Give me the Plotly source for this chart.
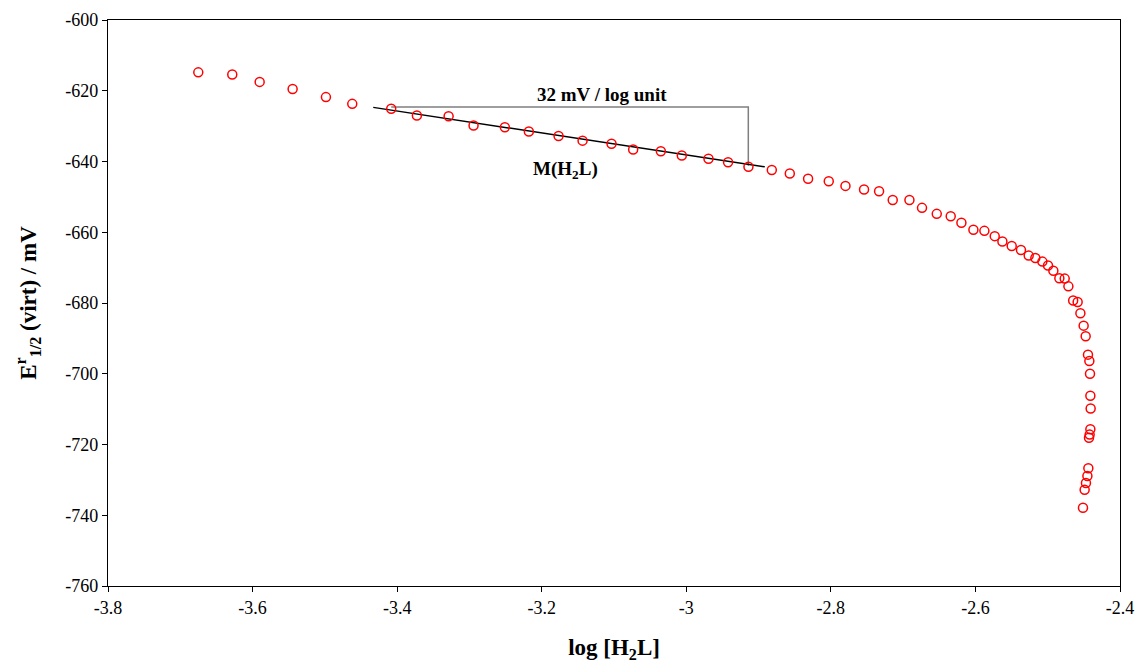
import plotly.graph_objects as go

# Experimental points: log[H2L] vs E_1/2 (virt) / mV
log_h2l = [-3.6751, -3.6281, -3.5902, -3.5446, -3.4985, -3.4621, -3.4082, -3.3727, -3.3288, -3.2943,
           -3.2510, -3.2178, -3.1767, -3.1435, -3.1034, -3.0735, -3.0352, -3.0062, -2.9693, -2.9422,
           -2.9140, -2.8817, -2.8568, -2.8315, -2.8029, -2.7798, -2.7541, -2.7333, -2.7144, -2.6913,
           -2.6739, -2.6535, -2.6342, -2.6194, -2.6028, -2.5876, -2.5733, -2.5627, -2.5498, -2.5370,
           -2.5263, -2.5171, -2.5074, -2.4996, -2.4922, -2.4839, -2.4765, -2.4714, -2.4648, -2.4586,
           -2.4548, -2.4503, -2.4475, -2.4443, -2.4424, -2.4415, -2.4410, -2.4406, -2.4410, -2.4420,
           -2.4429, -2.4438, -2.4451, -2.4471, -2.4489, -2.4512]
e_half = [-614.8, -615.4, -617.5, -619.5, -621.8, -623.7, -625.1, -627.0, -627.2, -629.8,
          -630.3, -631.5, -632.8, -634.1, -635.0, -636.6, -637.1, -638.3, -639.2, -640.2,
          -641.5, -642.4, -643.4, -644.9, -645.6, -646.9, -647.9, -648.4, -650.9, -650.9,
          -653.1, -654.8, -655.5, -657.3, -659.3, -659.6, -661.1, -662.6, -663.9, -665.0,
          -666.6, -667.3, -668.3, -669.4, -670.9, -673.0, -673.1, -675.3, -679.3, -679.7,
          -682.9, -686.4, -689.4, -694.6, -696.4, -700.0, -706.2, -709.8, -715.7, -717.2,
          -718.1, -726.7, -728.9, -730.9, -732.8, -737.9]

# Linear segment M(H2L), slope ~32 mV / log unit
fit_x = [-3.4331, -2.8914]
fit_y = [-624.7, -641.5]

# Slope triangle (horizontal + vertical leg)
tri_x = [-3.4082, -2.9142, -2.9142]
tri_y = [-624.6, -624.6, -641.2]

x_ticks = [-3.8, -3.6, -3.4, -3.2, -3.0, -2.8, -2.6, -2.4]
x_tick_labels = ["-3.8", "-3.6", "-3.4", "-3.2", "-3", "-2.8", "-2.6", "-2.4"]
y_ticks = [-600, -620, -640, -660, -680, -700, -720, -740, -760]
y_tick_labels = ["-600", "-620", "-640", "-660", "-680", "-700", "-720", "-740", "-760"]

slope_label = "32 mV / log unit"
slope_label_pos = (-3.1168, -621.1)
complex_label = "M(H<sub>2</sub>L)"
complex_label_pos = (-3.167, -642.3)

FONT = "Liberation Serif, Times New Roman, serif"

fig = go.Figure()
fig.add_trace(go.Scatter(x=tri_x, y=tri_y, mode="lines",
                         line=dict(color="#7f7f7f", width=1.5), showlegend=False, hoverinfo="skip"))
fig.add_trace(go.Scatter(x=fit_x, y=fit_y, mode="lines",
                         line=dict(color="black", width=1.5), showlegend=False, hoverinfo="skip"))
fig.add_trace(go.Scatter(x=log_h2l, y=e_half, mode="markers",
                         marker=dict(symbol="circle-open", size=9, color="red",
                                     line=dict(color="red", width=1.5)),
                         showlegend=False))

fig.add_annotation(x=slope_label_pos[0], y=slope_label_pos[1], text="<b>" + slope_label + "</b>",
                   showarrow=False, font=dict(family=FONT, size=19, color="black"))
fig.add_annotation(x=complex_label_pos[0], y=complex_label_pos[1], text="<b>" + complex_label + "</b>",
                   showarrow=False, font=dict(family=FONT, size=19, color="black"))

fig.update_layout(
    width=1139, height=664,
    margin=dict(l=108, r=19, t=20, b=78),
    paper_bgcolor="white", plot_bgcolor="white",
    font=dict(family=FONT, size=18, color="black"),
    xaxis=dict(range=[-3.8, -2.4], tickvals=x_ticks, ticktext=x_tick_labels, automargin=False,
               showgrid=False, zeroline=False, showline=True, linecolor="black", linewidth=1.2,
               mirror=True, ticks="outside", ticklen=5, tickcolor="black",
               tickfont=dict(family=FONT, size=18, color="black"),
               title=dict(text="<b>log [H<sub>2</sub>L]</b>", font=dict(family=FONT, size=23, color="black"),
                          standoff=22)),
    yaxis=dict(range=[-760, -600], tickvals=y_ticks, ticktext=y_tick_labels, automargin=False,
               showgrid=False, zeroline=False, showline=True, linecolor="black", linewidth=1.2,
               mirror=True, ticks="outside", ticklen=5, tickcolor="black",
               tickfont=dict(family=FONT, size=18, color="black"),
               title=dict(text="<b>E<sup>r</sup><sub>1/2</sub> (virt) / mV</b>",
                          font=dict(family=FONT, size=23, color="black"), standoff=22)),
)

fig.write_html("out.html")
